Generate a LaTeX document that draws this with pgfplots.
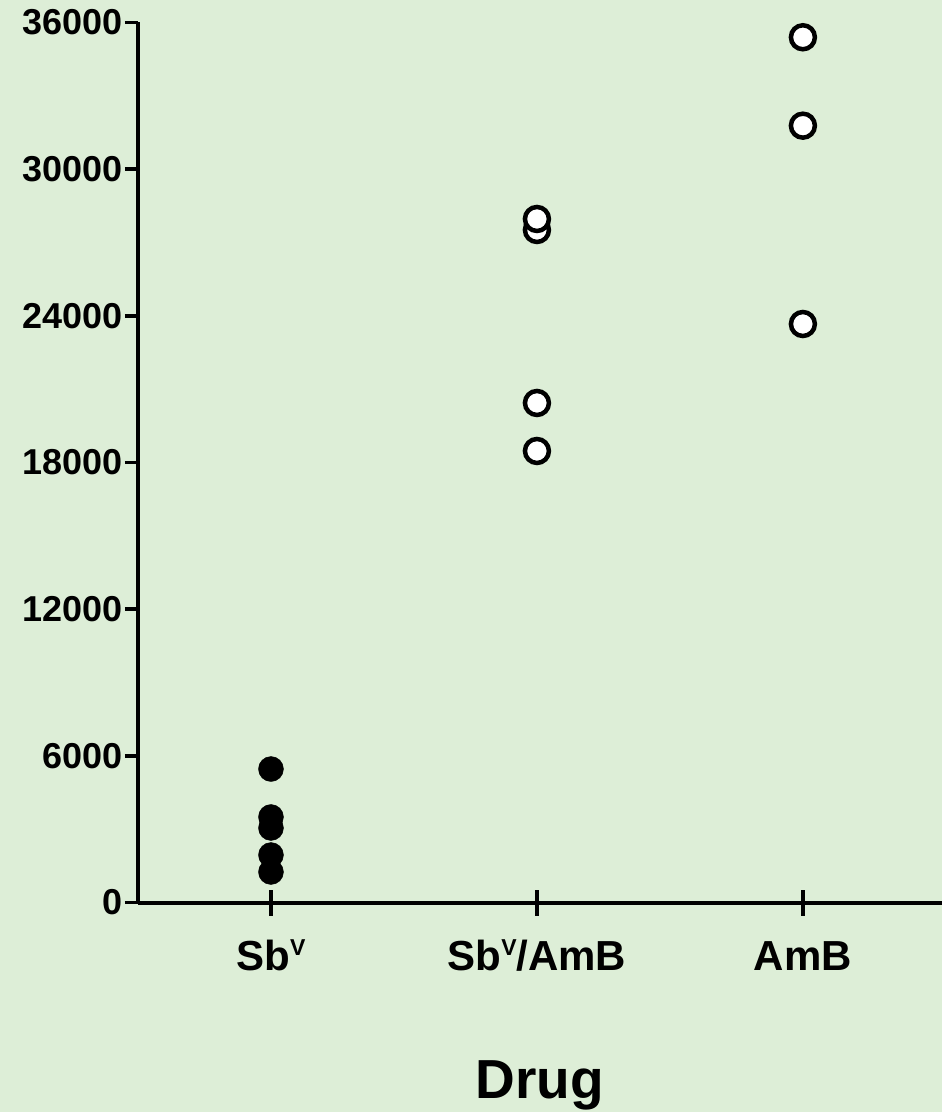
\documentclass[border=0pt]{standalone}
\usepackage{pgfplots}
\pgfplotsset{compat=1.18}
\usepackage{fontspec}
\setmainfont{Liberation Sans}
\definecolor{bg}{RGB}{221,238,215}
\newcommand{\supV}{\raisebox{15pt}{\fontsize{23}{24}\selectfont\bfseries V}}
\begin{document}
\begin{tikzpicture}
\fill[bg] (-138pt,-209.5pt) rectangle (804pt,902.5pt);
\begin{axis}[
  at={(0,0)}, anchor=south west,
  scale only axis, width=804pt, height=880pt,
  xmin=-0.5, xmax=2.523, ymin=0, ymax=36000,
  clip=false,
  axis x line=bottom, axis y line=left,
  axis line style={-, line width=4pt, black},
  tick align=outside,
  major tick length=13pt,
  major tick style={line width=3.5pt, black},
  xtick={0,1,2},
  xticklabels={Sb\supV, Sb\supV/AmB, \vphantom{Sb\supV}AmB},
  extra x ticks={0,1,2},
  extra x tick labels={},
  extra x tick style={tick align=inside},
  ytick={0,6000,12000,18000,24000,30000,36000},
  scaled y ticks=false,
  /pgf/number format/assume math mode=true,
  /pgf/number format/1000 sep={},
  yticklabel style={font=\fontsize{36}{40}\selectfont\bfseries, inner sep=2pt},
  xticklabel style={font=\fontsize{42}{48}\selectfont\bfseries, yshift=-21pt},
  xlabel={Drug},
  xlabel style={font=\fontsize{55}{60}\selectfont\bfseries, at={(axis description cs:0.5,0)}, anchor=base, yshift=-196pt},
]
\addplot[only marks, mark=*, mark size=12.5pt, mark options={fill=black, draw=none}]
  coordinates {(0,5461) (0,3498) (0,3048) (0,1943) (0,1248)};
\addplot[only marks, mark=*, mark size=12pt, mark options={fill=white, draw=black, line width=4.5pt}]
  coordinates {(1,27512) (1,27962) (1,20435) (1,18471)};
\addplot[only marks, mark=*, mark size=12pt, mark options={fill=white, draw=black, line width=4.5pt}]
  coordinates {(2,35396) (2,31779) (2,23666)};
\end{axis}
\pgfresetboundingbox
\useasboundingbox (-138pt,-209.5pt) rectangle (804pt,902.5pt);
\end{tikzpicture}
\end{document}
